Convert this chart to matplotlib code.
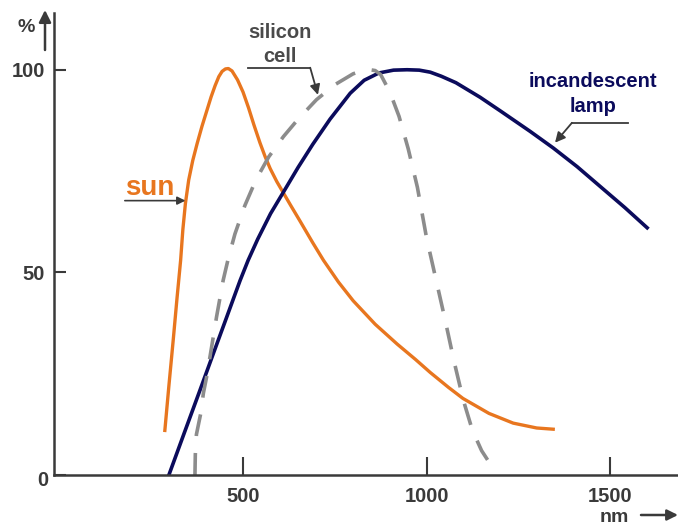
import matplotlib
matplotlib.use("Agg")
import matplotlib.pyplot as plt

# Relative spectral curves (wavelength in nm, relative intensity in %)
sun_nm = [287, 298, 310, 320, 330, 336, 343, 352, 363, 375, 388, 401, 413, 424,
          434, 443, 452, 460, 470, 485, 500, 515, 530, 546, 560, 574, 592, 610,
          630, 655, 690, 719, 760, 800, 860, 920, 970, 1010, 1060, 1099, 1170,
          1236, 1300, 1345]
sun_pct = [11, 22, 33.5, 43.5, 53, 60.5, 67, 72.8, 77.6, 81.8, 86, 89.8, 93.3,
           96.1, 98.3, 99.6, 100.2, 100.3, 99.7, 97.5, 94.5, 90.6, 86.3, 82,
           78.6, 75.6, 72.4, 69.6, 66.5, 62.7, 57.3, 53, 47.6, 43, 37.2, 32.3,
           28.5, 25.3, 21.6, 18.9, 15.2, 12.8, 11.6, 11.3]

lamp_nm = [298, 340, 383, 420, 450, 475, 492, 514, 540, 575, 610, 650, 690, 737,
           792, 830, 870, 910, 947, 980, 1010, 1040, 1080, 1146, 1200, 1282,
           1345, 1410, 1473, 1540, 1601]
lamp_pct = [0, 10.4, 21, 30.2, 37.6, 43.8, 48, 53, 58.2, 64.5, 69.8, 75.9, 81.6,
            87.8, 94.2, 97.4, 99.2, 99.9, 100, 99.9, 99.4, 98.4, 96.8, 93.2,
            89.9, 84.8, 80.7, 76.1, 71.2, 66, 61]

cell_nm = [369, 370, 373, 385, 392, 401, 410, 419, 428, 437, 446, 460, 478, 505,
           535, 570, 610, 650, 700, 750, 800, 830, 846, 860, 875, 900, 925, 950,
           975, 1000, 1025, 1050, 1075, 1100, 1125, 1150, 1170, 1191]
cell_pct = [0, 5, 10, 15.3, 20.2, 24.3, 29.2, 34.1, 39.1, 43.6, 48.1, 53.5, 59.5,
            66.5, 72.8, 78.5, 83.5, 87.8, 92.6, 96.3, 99, 99.9, 100, 99.8, 98.8,
            94.5, 88.5, 80.5, 71, 58.5, 48.5, 38.5, 28, 18.5, 11, 6, 3.2, 1.2]

x_ticks = [500, 1000, 1500]
y_ticks = [0, 50, 100]

ORANGE = "#e8761f"
NAVY = "#0b0b5c"
GRAY = "#8c8c8c"
INK = "#3a3a3a"

plt.rcParams["font.family"] = ["Liberation Sans", "DejaVu Sans"]
plt.rcParams["font.weight"] = "bold"

fig = plt.figure(figsize=(6.78, 5.26), dpi=100)
ax = fig.add_axes([54 / 678, 51 / 526, 624 / 678, 462 / 526])
ax.set_xlim(-15, 1685)
ax.set_ylim(0, 114)

for side in ("top", "right"):
    ax.spines[side].set_visible(False)
for side in ("left", "bottom"):
    ax.spines[side].set_color(INK)
    ax.spines[side].set_linewidth(1.8)

ax.set_xticks(x_ticks)
ax.set_yticks(y_ticks)
ax.set_xticklabels([str(v) for v in x_ticks])
# the origin label sits a little lower than the others, so it is placed separately
ax.set_yticklabels(["" if v == 0 else str(v) for v in y_ticks])
ax.tick_params(axis="x", direction="in", length=13, width=1.5, pad=9,
               labelsize=14.5, color=INK, labelcolor=INK)
ax.tick_params(axis="y", direction="in", length=8.5, width=1.5, pad=6.5,
               labelsize=14.5, color=INK, labelcolor=INK)
for lab in ax.get_xticklabels() + ax.get_yticklabels():
    lab.set_fontweight("bold")
ax.annotate(str(y_ticks[0]), xy=(0, 0), xycoords="axes fraction",
            xytext=(-6, -6), textcoords="offset pixels", ha="right", va="center",
            fontsize=14.5, fontweight="bold", color=INK)

# spectral curves
ax.plot(sun_nm, sun_pct, color=ORANGE, lw=2.4, solid_joinstyle="round")
ax.plot(lamp_nm, lamp_pct, color=NAVY, lw=2.6, solid_joinstyle="round")
ax.plot(cell_nm, cell_pct, color=GRAY, lw=2.6, dashes=(6.1, 4.7))

# curve labels with pointer arrows
ax.text(247, 70.9, "sun", color=ORANGE, fontsize=20, fontweight="bold",
        ha="center", va="center")
ax.annotate("", xy=(343, 67.7), xytext=(178, 67.7),
            arrowprops=dict(arrowstyle="-|>", color=INK, lw=1.2,
                            mutation_scale=12, shrinkA=0, shrinkB=0))

ax.text(601, 106.2, "silicon\ncell", color="#4a4a4a", fontsize=14.5,
        fontweight="bold", ha="center", va="center", linespacing=1.35)
ax.plot([514, 683], [100.5, 100.5], color=INK, lw=1.3, clip_on=False)
ax.annotate("", xy=(704, 93.8), xytext=(683, 100.5),
            arrowprops=dict(arrowstyle="-|>", color=INK, lw=1.3,
                            mutation_scale=15, shrinkA=0, shrinkB=0))

ax.text(1454, 94.0, "incandescent\nlamp", color=NAVY, fontsize=14.5,
        fontweight="bold", ha="center", va="center", linespacing=1.4)
ax.plot([1549, 1396], [86.9, 86.9], color=INK, lw=1.3, clip_on=False)
ax.annotate("", xy=(1350, 82), xytext=(1396, 86.9),
            arrowprops=dict(arrowstyle="-|>", color=INK, lw=1.3,
                            mutation_scale=15, shrinkA=0, shrinkB=0))

# axis unit labels with arrows
fig.text(26 / 678, 1 - 27 / 526, "%", color=INK, fontsize=14, fontweight="bold",
         ha="center", va="center")
ax.annotate("", xy=(45, 526 - 10), xytext=(45, 526 - 50),
            xycoords="figure pixels", textcoords="figure pixels",
            arrowprops=dict(arrowstyle="-|>", color=INK, lw=1.8,
                            mutation_scale=18, shrinkA=0, shrinkB=0))
fig.text(614 / 678, 1 - 517 / 526, "nm", color=INK, fontsize=14, fontweight="bold",
         ha="center", va="center")
ax.annotate("", xy=(678, 526 - 515), xytext=(641, 526 - 515),
            xycoords="figure pixels", textcoords="figure pixels",
            arrowprops=dict(arrowstyle="-|>", color=INK, lw=1.8,
                            mutation_scale=16, shrinkA=0, shrinkB=0))

fig.savefig("out.png", dpi=100)
